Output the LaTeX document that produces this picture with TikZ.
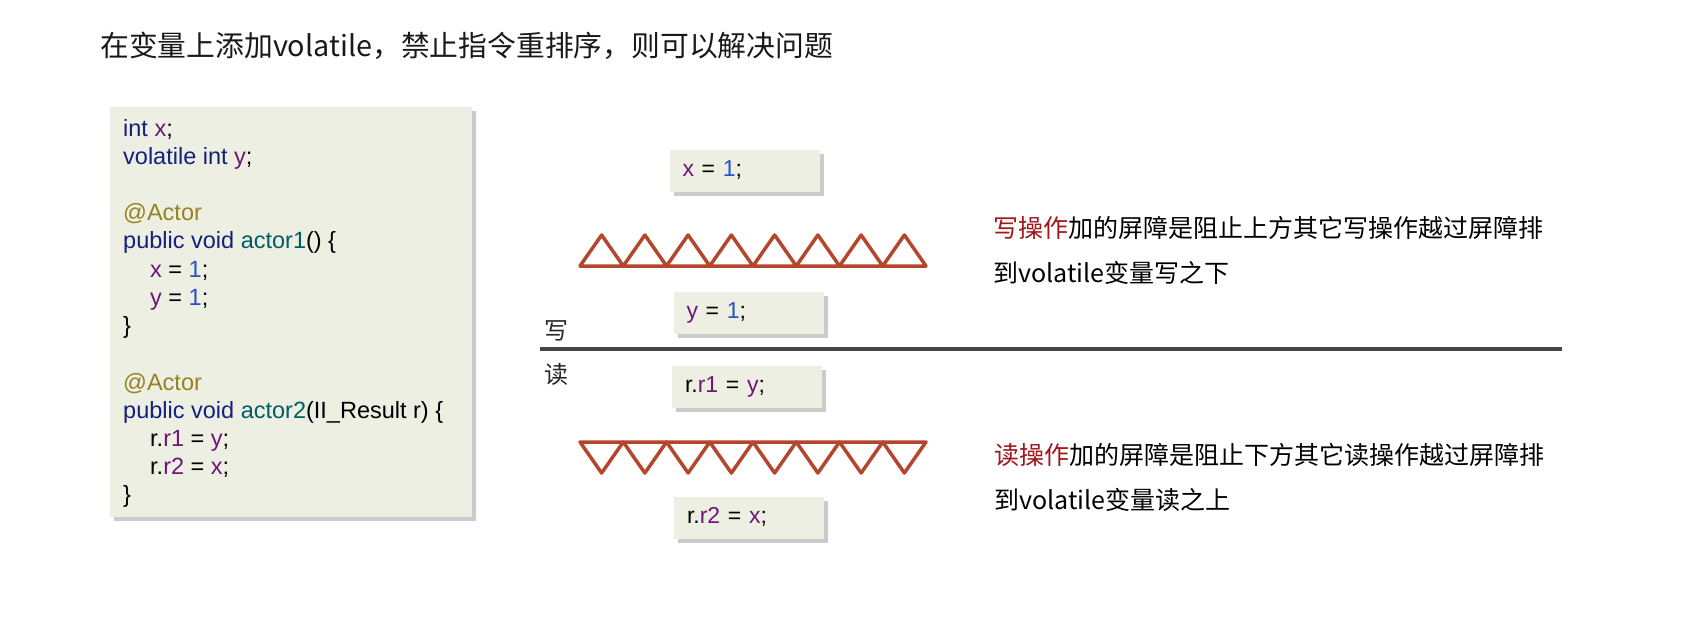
\documentclass[tikz,border=0pt]{standalone}
\usepackage{fontspec}
\setmainfont{Liberation Sans}
\newfontfamily\cjkfont{Noto Sans CJK SC}
\usetikzlibrary{shadows}
\definecolor{codebg}{RGB}{236,239,225}
\definecolor{codekw}{RGB}{20,32,125}
\definecolor{codevar}{RGB}{110,22,120}
\definecolor{codenum}{RGB}{38,82,200}
\definecolor{codeanno}{RGB}{150,130,35}
\definecolor{codefn}{RGB}{0,92,102}
\definecolor{barrierred}{RGB}{180,70,45}
\definecolor{notered}{RGB}{160,22,26}
\definecolor{dividergray}{RGB}{68,68,68}
\newcommand\codekw[1]{\textcolor{codekw}{#1}}
\newcommand\codevar[1]{\textcolor{codevar}{#1}}
\newcommand\codenum[1]{\textcolor{codenum}{#1}}
\newcommand\codeanno[1]{\textcolor{codeanno}{#1}}
\newcommand\codefn[1]{\textcolor{codefn}{#1}}
\newcommand\codefont{\fontsize{23.5pt}{28pt}\selectfont}
\newcommand\stmtfont{\fontsize{23pt}{28pt}\selectfont}
\newcommand\notefont{\cjkfont\fontsize{25pt}{30pt}\selectfont}
\tikzset{
    panel/.style={fill=codebg, draw=none, inner sep=0pt,
        drop shadow={shadow xshift=4pt, shadow yshift=-4pt, fill=black!45, opacity=0.45}},
    codeline/.style={inner sep=0pt, font=\codefont, anchor=base west},
    stmtbox/.style={panel, font=\stmtfont, text width=124pt, inner xsep=13pt,
        minimum height=42pt, align=left, text height=16pt, text depth=5pt},
    barrier/.style={draw=barrierred, line width=3.5pt, line join=round},
    note/.style={inner sep=0pt, anchor=west, font=\notefont},
}
\begin{document}
\begin{tikzpicture}[x=1pt, y=-1pt]
\useasboundingbox (0,0) rectangle (1698,622);

\node[anchor=west, inner sep=0pt, font=\cjkfont\fontsize{28.8pt}{34pt}\selectfont, text=black!90] (title) at (100,46) {在变量上添加volatile，禁止指令重排序，则可以解决问题};

\node[panel, anchor=north west, minimum width=362pt, minimum height=410pt] (codepanel) at (110,107) {};
\foreach \row/\col/\codeline in {
    0/123/{\codekw{int} \codevar{x};},
    1/123/{\codekw{volatile int} \codevar{y};},
    3/123/{\codeanno{@Actor}},
    4/123/{\codekw{public void} \codefn{actor1}() \{},
    5/150/{\codevar{x} = \codenum{1};},
    6/150/{\codevar{y} = \codenum{1};},
    7/123/{\}},
    9/123/{\codeanno{@Actor}},
    10/123/{\codekw{public void} \codefn{actor2}(II\_Result r) \{},
    11/150/{r.\codevar{r1} = \codevar{y};},
    12/150/{r.\codevar{r2} = \codevar{x};},
    13/123/{\}}}{
    \node[codeline] (code-\row) at (\col, {136+28.23*\row}) {\codeline};
}

\node[stmtbox] (xwrite) at (744.5,171) {\codevar{x} = \codenum{1};};
\node[stmtbox] (ywrite) at (748.5,312.5) {\codevar{y} = \codenum{1};};
\node[stmtbox] (yread) at (747,386.5) {r.\codevar{r1} = \codevar{y};};
\node[stmtbox] (xread) at (749,517.5) {r.\codevar{r2} = \codevar{x};};

\foreach \i in {0,...,7}{
    \draw[barrier] ({580+43.25*\i},266) -- ++(21.625,-31) -- ++(21.625,31) -- cycle;
    \draw[barrier] ({580+43.25*\i},442) -- ++(21.625,31) -- ++(21.625,-31) -- cycle;
}

\coordinate (divider-l) at (540,349);
\coordinate (divider-r) at (1562,349);
\draw[dividergray, line width=4pt] (divider-l) -- (divider-r);
\node[inner sep=0pt, font=\cjkfont\fontsize{24pt}{28pt}\selectfont, text=black!85] (writeside) at (556,331) {写};
\node[inner sep=0pt, font=\cjkfont\fontsize{24pt}{28pt}\selectfont, text=black!85] (readside) at (556,374) {读};

\node[note] (writenote1) at (993,228) {\textcolor{notered}{写操作}加的屏障是阻止上方其它写操作越过屏障排};
\node[note] (writenote2) at (993,273) {到volatile变量写之下};
\node[note] (readnote1) at (994,455) {\textcolor{notered}{读操作}加的屏障是阻止下方其它读操作越过屏障排};
\node[note] (readnote2) at (994,500) {到volatile变量读之上};

\end{tikzpicture}
\end{document}
